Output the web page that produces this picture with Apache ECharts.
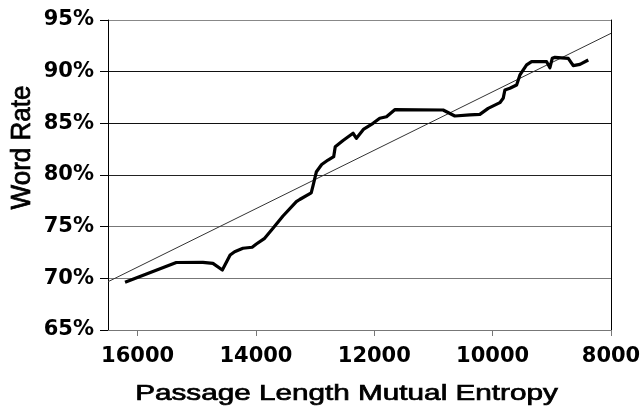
<!DOCTYPE html>
<html>
<head>
<meta charset="utf-8">
<script src="https://cdn.jsdelivr.net/npm/echarts@6/dist/echarts.min.js"></script>
<style>
  html, body { margin: 0; padding: 0; background: #fff; }
  #chart { width: 642px; height: 408px; }
</style>
</head>
<body>
<div id="chart"></div>
<script>
// Passage length mutual entropy (x) vs. word rate in percent (y)
const entropy = [16212, 15346, 14896, 14727, 14568, 14436, 14360, 14220, 14064, 13993,
  13853, 13712, 13543, 13317, 13261, 13066, 13036, 12978, 12889, 12782,
  12686, 12660, 12528, 12359, 12302, 12178, 12021, 11908, 11794, 11654,
  10837, 10639, 10385, 10216, 10076, 9878, 9822, 9793, 9709, 9595,
  9539, 9426, 9342, 9088, 9032, 8993, 8947, 8722, 8638, 8525, 8384];
const wordRate = [69.62, 71.53, 71.55, 71.45, 70.81, 72.26, 72.58, 72.91, 73.01, 73.32,
  73.87, 74.84, 76.03, 77.42, 77.63, 78.26, 78.94, 80.32, 81.02, 81.45,
  81.77, 82.74, 83.34, 84.04, 83.55, 84.45, 85.0, 85.49, 85.64, 86.32,
  86.29, 85.71, 85.81, 85.87, 86.45, 87.0, 87.42, 88.23, 88.39, 88.71,
  89.68, 90.65, 90.97, 90.97, 90.38, 91.29, 91.39, 91.29, 90.58, 90.71, 91.13];

// Linear trend line end points
const trendEntropy = [16500, 8000];
const trendRate = [69.67, 93.71];

// Axis ticks
const xTicks = [16000, 14000, 12000, 10000, 8000];
const yTicks = [65, 70, 75, 80, 85, 90, 95];

const xTitle = 'Passage Length Mutual Entropy';
const yTitle = 'Word Rate';

const chart = echarts.init(document.getElementById('chart'));

const tickFont = {
  color: '#000',
  fontFamily: 'DejaVu Sans',
  fontWeight: 'bold',
  fontSize: 21
};

const titleStyle = {
  fill: '#000',
  stroke: '#000',
  lineWidth: 0.7,
  textAlign: 'center',
  textVerticalAlign: 'middle'
};

chart.setOption({
  animation: false,
  backgroundColor: '#fff',
  grid: {
    left: 108, right: 31, top: 20, bottom: 78,
    containLabel: false,
    outerBoundsMode: 'none'
  },
  xAxis: {
    type: 'value',
    inverse: true,
    min: 8000,
    max: 16500,
    interval: 2000,
    axisLine: { show: true, lineStyle: { color: '#777', width: 1 } },
    axisTick: { show: true, length: 6, lineStyle: { color: '#777' }, customValues: xTicks },
    axisLabel: Object.assign({
      margin: 16,
      customValues: xTicks,
      formatter: (v) => String(v)
    }, tickFont),
    splitLine: { show: false }
  },
  yAxis: [
    {
      type: 'value',
      min: yTicks[0],
      max: yTicks[yTicks.length - 1],
      interval: 5,
      axisLine: { show: true, lineStyle: { color: '#000', width: 1 } },
      axisTick: { show: true, length: 8, lineStyle: { color: '#000' } },
      axisLabel: Object.assign({ margin: 14, formatter: '{value}%' }, tickFont),
      splitLine: {
        show: true,
        lineStyle: { color: ['#777', '#777', '#777', '#222', '#111', '#111', '#888'], width: 1 }
      }
    },
    {
      // right-hand frame edge
      type: 'value',
      position: 'right',
      min: yTicks[0],
      max: yTicks[yTicks.length - 1],
      interval: 5,
      axisLine: { show: true, lineStyle: { color: '#000', width: 1 } },
      axisTick: { show: false },
      axisLabel: { show: false },
      splitLine: { show: false }
    }
  ],
  series: [
    {
      type: 'line',
      name: 'Trend',
      data: trendEntropy.map((v, i) => [v, trendRate[i]]),
      showSymbol: false,
      silent: true,
      lineStyle: { color: '#333', width: 1 },
      z: 2
    },
    {
      type: 'line',
      name: 'Word Rate',
      data: entropy.map((v, i) => [v, wordRate[i]]),
      showSymbol: false,
      silent: true,
      lineStyle: { color: '#000', width: 3.2, join: 'round' },
      z: 3
    }
  ],
  graphic: [
    {
      type: 'text',
      x: 346.5,
      y: 393.5,
      scaleX: 1.35,
      style: Object.assign({ text: xTitle, font: '22px "Liberation Sans"' }, titleStyle)
    },
    {
      type: 'text',
      x: 22.5,
      y: 147.5,
      rotation: Math.PI / 2,
      scaleY: 1.05,
      style: Object.assign({ text: yTitle, font: '26px "Liberation Sans"' }, titleStyle)
    }
  ]
});
</script>
</body>
</html>
